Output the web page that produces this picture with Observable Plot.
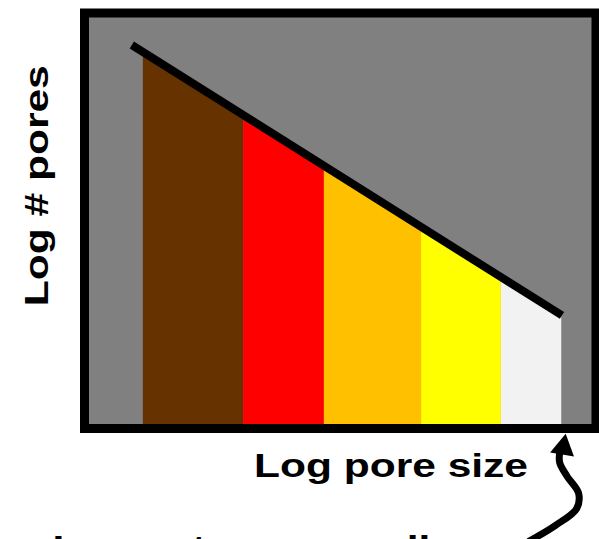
<!DOCTYPE html>
<html><head><meta charset="utf-8">
<script src="https://cdn.jsdelivr.net/npm/d3@7"></script>
<script src="https://cdn.jsdelivr.net/npm/@observablehq/plot@0.6"></script>
<style>html,body{margin:0;padding:0;background:#fff;overflow:hidden}</style>
</head><body><div id="chart"></div>
<script>
// Pore-size classes (left to right) and their fill colours
const poreClasses = ["Class 1", "Class 2", "Class 3", "Class 4", "Class 5"];
const classColors = ["#663300", "#FF0000", "#FFC000", "#FFFF00", "#F2F2F2"];
// Class boundaries along log pore size (0–100 frame units) and the log # pores at each boundary
const classEdges = [11.5, 31.1, 46.9, 65.9, 81.5, 93.3];
const edgeTops = [90.5, 75.4, 63.2, 48.4, 36.3, 27.3];
// Trend line end points
const trendX = [9.25, 93.35];
const trendY = [92.3, 27.2];
// Curved annotation arrow (below the frame)
const arrowX = [86.8, 92.1, 96.2, 96.6, 94.4, 92.9, 92.9];
const arrowY = [-27.2, -23.3, -19.3, -15.6, -11.6, -8.2, -5.8];
const arrowHeadX = [93.6];
const arrowHeadY = [-4.6];
// Texts
const xLabel = "Log pore size";
const yLabel = "Log # pores";
const noteLabel = "Largest pore smaller";

const areaData = [];
for (let i = 0; i < poreClasses.length; i++) {
  areaData.push({cls: poreClasses[i], x: classEdges[i], y: edgeTops[i]});
  areaData.push({cls: poreClasses[i], x: classEdges[i + 1], y: edgeTops[i + 1]});
}
const trend = trendX.map((x, i) => ({x, y: trendY[i]}));
const arrow = arrowX.map((x, i) => ({x, y: arrowY[i]}));
const head = arrowHeadX.map((x, i) => ({x, y: arrowHeadY[i]}));

const font = "'Liberation Sans', Arial, Helvetica, sans-serif";

const chart = Plot.plot({
  width: 599,
  height: 539,
  marginTop: 12.5,
  marginLeft: 84,
  marginRight: 3.5,
  marginBottom: 111,
  style: {fontFamily: font, background: "white", overflow: "hidden"},
  x: {domain: [0, 100], axis: null},
  y: {domain: [0, 100], axis: null},
  color: {domain: poreClasses, range: classColors},
  marks: [
    Plot.frame({fill: "#808080", stroke: null}),
    Plot.areaY(areaData, {x: "x", y1: 0, y2: "y", z: "cls", fill: "cls"}),
    Plot.line(trend, {x: "x", y: "y", stroke: "black", strokeWidth: 8, strokeLinecap: "butt"}),
    Plot.frame({stroke: "black", strokeWidth: 9}),
    Plot.line(arrow, {x: "x", y: "y", stroke: "black", strokeWidth: 7, curve: "catmull-rom", strokeLinecap: "butt"}),
    Plot.dot(head, {x: "x", y: "y", symbol: "triangle", r: 9, fill: "black", stroke: null, rotate: 10}),
    Plot.text([xLabel], {text: d => d, frameAnchor: "bottom", dx: 50.75, dy: 48, textAnchor: "middle", lineAnchor: "bottom",
      fontSize: 34, fontWeight: "bold", fill: "black", fontFamily: font}),
    Plot.text([yLabel], {text: d => d, frameAnchor: "left", dx: -47, dy: -35, rotate: -90, textAnchor: "middle", lineAnchor: "middle",
      fontSize: 34, fontWeight: "bold", fill: "black", fontFamily: font}),
    Plot.text([noteLabel], {text: d => d, frameAnchor: "bottom-left", dx: -32, dy: 130, textAnchor: "start",
      lineAnchor: "bottom", fontSize: 34, fontWeight: "bold", fill: "black", fontFamily: font})
  ]
});
document.getElementById("chart").append(chart);
chart.querySelectorAll("text").forEach(t => {
  const w = t.getComputedTextLength();
  t.setAttribute("textLength", (w * 1.25).toFixed(1));
  t.setAttribute("lengthAdjust", "spacingAndGlyphs");
});
</script>
</body></html>
